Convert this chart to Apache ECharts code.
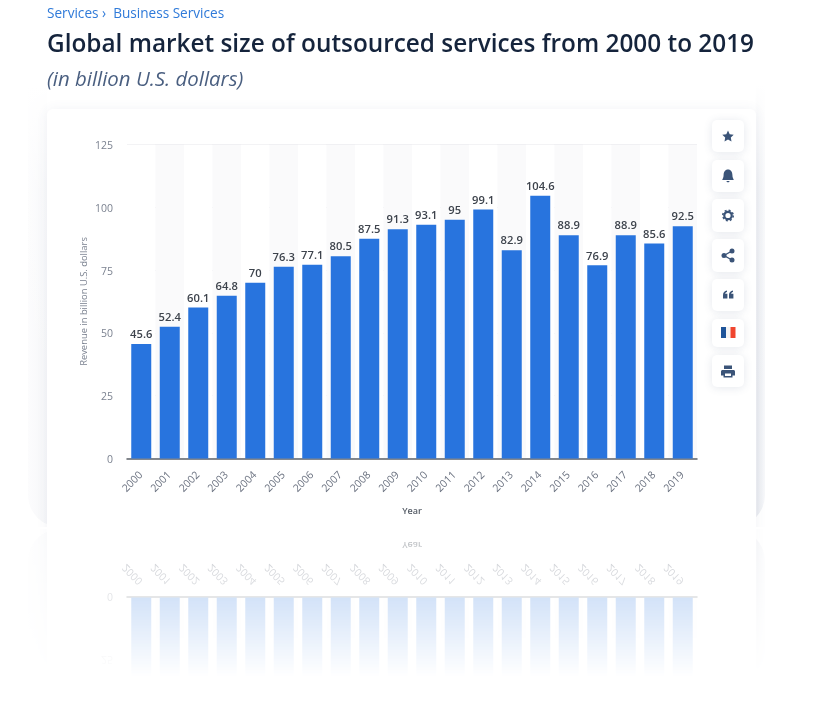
<!DOCTYPE html>
<html>
<head>
<meta charset="utf-8">
<script src="https://cdn.jsdelivr.net/npm/echarts@6/dist/echarts.min.js"></script>
<style>
  html, body { margin: 0; padding: 0; background: #fff; overflow: hidden; }
  body { width: 829px; height: 726px; position: relative; }
  #wrap {
    position: absolute; left: 0; top: 0; width: 829px; height: 527px; overflow: hidden;
    -webkit-box-reflect: below 2px linear-gradient(transparent 72%, rgba(0,0,0,.2) 86.5%, rgba(0,0,0,.4) 100%);
  }
  #halo {
    position: absolute; left: 28px; top: -40px; width: 737px; height: 567px; border-radius: 32px;
    background:
      linear-gradient(180deg, #fff 0, #fff 22%, rgba(255,255,255,.25) 40%, rgba(255,255,255,0) 80%),
      linear-gradient(90deg, #fcfcfd 0, #f6f7f9 19px, #fff 19px, #fff 727px, #e9ebf0 729px, #f8f9fb 737px);
  }
  #card {
    position: absolute; left: 47px; top: 109px; width: 709px; height: 430px; background: #fff;
    border-radius: 6px; box-shadow: 0 0 12px rgba(70, 90, 130, .07);
  }
  #chart { position: absolute; left: 0; top: 0; width: 829px; height: 527px; }
</style>
</head>
<body>
<div id="wrap">
  <div id="halo"></div>
  <div id="card"></div>
  <div id="chart"></div>
</div>
<script>
const years = ['2000', '2001', '2002', '2003', '2004', '2005', '2006', '2007', '2008', '2009',
  '2010', '2011', '2012', '2013', '2014', '2015', '2016', '2017', '2018', '2019'];
const revenue = [45.6, 52.4, 60.1, 64.8, 70, 76.3, 77.1, 80.5, 87.5, 91.3,
  93.1, 95, 99.1, 82.9, 104.6, 88.9, 76.9, 88.9, 85.6, 92.5];

const font = '"Open Sans", sans-serif';
const iconColor = '#3b5478';

// white buttons down the right side of the card
const buttonTops = [120, 160, 199, 239, 279, 319, 355];
const buttonHeights = [32, 32, 33, 33, 32, 28, 32];

function button(top, height) {
  return {
    type: 'rect',
    shape: { x: 712, y: top, width: 32, height: height, r: 5 },
    style: { fill: '#fff', shadowBlur: 8, shadowColor: 'rgba(70,90,130,.14)', shadowOffsetY: 1 },
    z: 1
  };
}

// graphic has no plain path type, so each icon gets registered as a shape
function icon(name, pathData) {
  echarts.graphic.registerShape(name, echarts.graphic.extendPath(pathData, {}));
  return { type: name, shape: {}, style: { fill: iconColor }, z: 2 };
}

const icons = [
  icon('iconStar', 'M728 130.5L729.7 134.2 733.7 134.7 730.8 137.5 731.5 141.5 728 139.6 724.5 141.5 725.2 137.5 722.3 134.7 726.3 134.2Z'),
  icon('iconBell', 'M728 169.5C731 169.5 732.4 172 732.4 175 732.4 177.5 733.4 178.5 733.8 180L722.2 180C722.6 178.5 723.6 177.5 723.6 175 723.6 172 725 169.5 728 169.5ZM726.4 181L729.6 181C729.4 182.8 726.6 182.8 726.4 181Z'),
  { type: 'circle', shape: { cx: 728, cy: 215.5, r: 3.7 }, style: { fill: 'none', stroke: iconColor, lineWidth: 2.2 }, z: 2 },
  { type: 'circle', shape: { cx: 728, cy: 215.5, r: 5.2 }, style: { fill: 'none', stroke: iconColor, lineWidth: 1.6, lineDash: [2, 2.08] }, z: 2 },
  { type: 'polyline', shape: { points: [[732, 251], [724, 255.5], [732, 260]] }, style: { fill: 'none', stroke: iconColor, lineWidth: 1.4 }, z: 2 },
  { type: 'circle', shape: { cx: 732, cy: 251, r: 2.5 }, style: { fill: iconColor }, z: 2 },
  { type: 'circle', shape: { cx: 724, cy: 255.5, r: 2.5 }, style: { fill: iconColor }, z: 2 },
  { type: 'circle', shape: { cx: 732, cy: 260, r: 2.5 }, style: { fill: iconColor }, z: 2 },
  icon('iconQuote', 'M723 295C723 292.5 724.5 291 727 290.5L727 292C725.8 292.3 725.2 293 725.2 293.8L727.4 293.8 727.4 298.6 723 298.6ZM729 295C729 292.5 730.5 291 733 290.5L733 292C731.8 292.3 731.2 293 731.2 293.8L733.4 293.8 733.4 298.6 729 298.6Z'),
  { type: 'rect', shape: { x: 721, y: 327, width: 5, height: 11 }, style: { fill: '#1f5499' }, z: 2 },
  { type: 'rect', shape: { x: 726, y: 327, width: 4.5, height: 11 }, style: { fill: '#f4f4f4' }, z: 2 },
  { type: 'rect', shape: { x: 730.5, y: 327, width: 5, height: 11 }, style: { fill: '#f0452f' }, z: 2 },
  icon('iconPrint', 'M724 365.5L732 365.5 732 369 724 369ZM722.5 370L733.5 370C734.3 370 735 370.7 735 371.5L735 375.5 732.5 375.5 732.5 377.5 723.5 377.5 723.5 375.5 721 375.5 721 371.5C721 370.7 721.7 370 722.5 370ZM725 373.5L725 376 731 376 731 373.5Z')
];

const chart = echarts.init(document.getElementById('chart'), null, { renderer: 'canvas' });

chart.setOption({
  animation: false,
  backgroundColor: 'transparent',
  textStyle: { fontFamily: font },
  title: [
    { text: 'Services ›  Business Services', left: 47, top: 7, padding: 0,
      textStyle: { fontFamily: font, fontSize: 13.6, fontWeight: 400, color: '#2f7ad9' } },
    { text: 'Global market size of outsourced services from 2000 to 2019', left: 47, top: 33, padding: 0,
      textStyle: { fontFamily: font, fontSize: 24.35, fontWeight: 600, color: '#15243c' } },
    { text: '(in billion U.S. dollars)', left: 47, top: 70, padding: 0,
      textStyle: { fontFamily: font, fontSize: 20.4, fontWeight: 400, fontStyle: 'italic', color: '#4a5f80' } }
  ],
  grid: { left: 127, top: 144.5, width: 570, height: 314 },
  xAxis: {
    type: 'category',
    data: years,
    name: 'Year',
    nameLocation: 'middle',
    nameGap: 48.5,
    nameMoveOverlap: false,
    nameTextStyle: { fontFamily: font, fontSize: 9, fontWeight: 600, color: '#555c66' },
    axisLine: { lineStyle: { color: '#5c6168', width: 1.5 } },
    axisTick: { show: false },
    axisLabel: { rotate: 45, fontSize: 10.5, color: '#6b7280', margin: 15, interval: 0, fontFamily: font },
    splitArea: { show: true, areaStyle: { color: ['#ffffff', '#fafafb'] } }
  },
  yAxis: {
    type: 'value',
    min: 0,
    max: 125,
    interval: 25,
    name: 'Revenue in billion U.S. dollars',
    nameLocation: 'middle',
    nameGap: 38,
    nameMoveOverlap: false,
    nameTextStyle: { fontFamily: font, fontSize: 9.4, color: '#7b8290' },
    axisLine: { show: false },
    axisTick: { show: false },
    axisLabel: { fontSize: 10.5, color: '#7b8290', margin: 14, verticalAlign: 'top', lineHeight: 3, fontFamily: font },
    splitLine: { lineStyle: { color: '#e6e7ea', width: 1 } }
  },
  series: [{
    type: 'bar',
    data: revenue,
    barWidth: 20,
    itemStyle: { color: '#2874de' },
    label: {
      show: true,
      position: 'top',
      distance: 3.5,
      fontFamily: font,
      fontSize: 11.2,
      fontWeight: 600,
      color: '#3d434c'
    },
    z: 3
  }],
  graphic: buttonTops.map((t, i) => button(t, buttonHeights[i])).concat(icons)
});
</script>
</body>
</html>
